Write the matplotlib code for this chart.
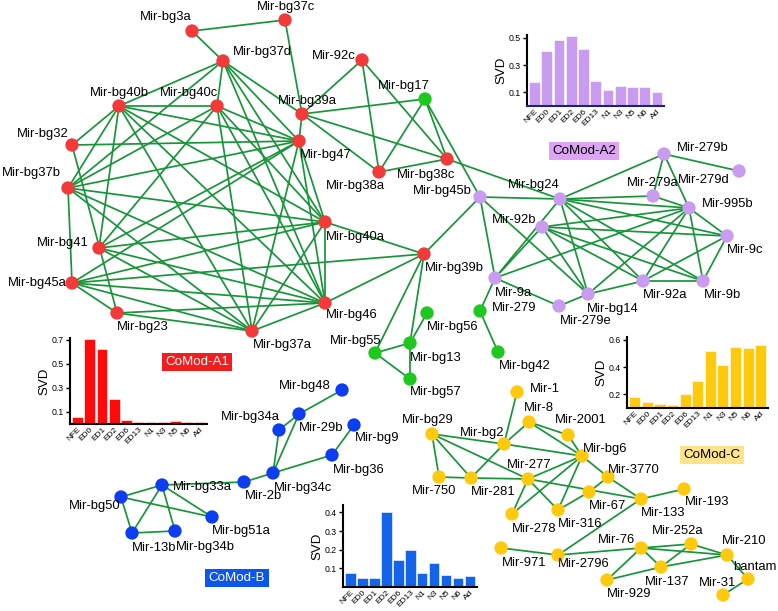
import matplotlib
matplotlib.use("Agg")
import matplotlib.pyplot as plt

plt.rcParams['font.family'] = ['Liberation Sans', 'DejaVu Sans']

W, H = 778, 611

# ---------------- network data (layout coordinates in pixel space) ----------------
a1_names = ["Mir-bg3a", "Mir-bg37c", "Mir-bg37d", "Mir-bg40b", "Mir-bg40c", "Mir-bg39a",
            "Mir-bg32", "Mir-bg47", "Mir-bg37b", "Mir-bg40a", "Mir-bg41", "Mir-bg45a",
            "Mir-bg46", "Mir-bg23", "Mir-bg37a", "Mir-92c", "Mir-bg38a", "Mir-bg38c", "Mir-bg39b"]
a1_x = [192, 285, 223, 119, 217, 302, 72, 299, 68, 325, 99, 72, 325, 117, 252, 362, 379, 447, 424]
a1_y = [31, 20, 61, 106, 106, 114, 145, 141, 188, 222, 248, 283, 303, 313, 331, 60, 172, 159, 254]

grn_names = ["Mir-bg17", "Mir-bg55", "Mir-bg56", "Mir-bg13", "Mir-bg57", "Mir-bg42", "Mir-279"]
grn_x = [425, 375, 427, 410, 410, 498, 480]
grn_y = [99, 353, 313, 343, 379, 352, 311]

a2_names = ["Mir-bg45b", "Mir-bg24", "Mir-92b", "Mir-279a", "Mir-279b", "Mir-279d", "Mir-995b",
            "Mir-9c", "Mir-9a", "Mir-92a", "Mir-9b", "Mir-bg14", "Mir-279e"]
a2_x = [480, 560, 542, 653, 664, 739, 689, 727, 495, 643, 703, 588, 559]
a2_y = [197, 199, 227, 196, 154, 171, 208, 236, 278, 281, 281, 294, 306]

b_names = ["Mir-bg48", "Mir-bg34a", "Mir-29b", "Mir-bg9", "Mir-bg36", "Mir-bg34c", "Mir-2b",
           "Mir-bg33a", "Mir-bg50", "Mir-bg51a", "Mir-13b", "Mir-bg34b"]
b_x = [342, 279, 299, 354, 332, 273, 244, 162, 121, 212, 132, 175]
b_y = [390, 430, 414, 425, 455, 473, 482, 485, 497, 517, 533, 531]

c_names = ["Mir-1", "Mir-8", "Mir-2001", "Mir-bg29", "Mir-bg2", "Mir-bg6", "Mir-750", "Mir-281",
           "Mir-277", "Mir-3770", "Mir-67", "Mir-133", "Mir-193", "Mir-278", "Mir-316", "Mir-971",
           "Mir-2796", "Mir-76", "Mir-252a", "Mir-210", "Mir-137", "Mir-929", "bantam", "Mir-31"]
c_x = [517, 529, 568, 432, 504, 582, 439, 471, 528, 608, 589, 641, 684, 512, 558, 501,
       558, 641, 691, 727, 661, 607, 748, 723]
c_y = [392, 422, 435, 434, 444, 456, 477, 478, 479, 477, 492, 499, 489, 514, 510, 548,
       555, 548, 544, 555, 567, 580, 579, 595]

edges = [
    # CoMod-A1
    ("Mir-bg3a", "Mir-bg37c"), ("Mir-bg3a", "Mir-bg37d"), ("Mir-bg37c", "Mir-bg39a"),
    ("Mir-bg37d", "Mir-bg40b"), ("Mir-bg37d", "Mir-bg40c"), ("Mir-bg37d", "Mir-bg39a"),
    ("Mir-bg37d", "Mir-bg47"), ("Mir-bg37d", "Mir-bg40a"), ("Mir-bg37d", "Mir-bg46"),
    ("Mir-bg37d", "Mir-bg37b"),
    ("Mir-bg40b", "Mir-bg40c"), ("Mir-bg40b", "Mir-bg32"), ("Mir-bg40b", "Mir-bg37b"),
    ("Mir-bg40b", "Mir-bg41"), ("Mir-bg40b", "Mir-bg47"), ("Mir-bg40b", "Mir-bg40a"),
    ("Mir-bg40b", "Mir-bg46"), ("Mir-bg40b", "Mir-bg37a"),
    ("Mir-bg40c", "Mir-bg37b"), ("Mir-bg40c", "Mir-bg41"), ("Mir-bg40c", "Mir-bg47"),
    ("Mir-bg40c", "Mir-bg40a"), ("Mir-bg40c", "Mir-bg46"), ("Mir-bg40c", "Mir-bg37a"),
    ("Mir-bg32", "Mir-bg47"), ("Mir-bg32", "Mir-bg23"),
    ("Mir-bg37b", "Mir-bg47"), ("Mir-bg37b", "Mir-bg40a"), ("Mir-bg37b", "Mir-bg46"),
    ("Mir-bg37b", "Mir-bg45a"), ("Mir-bg37b", "Mir-bg37a"),
    ("Mir-bg41", "Mir-bg40a"), ("Mir-bg41", "Mir-bg47"), ("Mir-bg41", "Mir-bg46"),
    ("Mir-bg41", "Mir-bg37a"),
    ("Mir-bg45a", "Mir-bg40a"), ("Mir-bg45a", "Mir-bg46"), ("Mir-bg45a", "Mir-bg37a"),
    ("Mir-bg45a", "Mir-bg23"), ("Mir-bg45a", "Mir-bg39b"), ("Mir-bg45a", "Mir-bg47"),
    ("Mir-bg23", "Mir-bg46"), ("Mir-bg23", "Mir-bg37a"),
    ("Mir-bg37a", "Mir-bg47"), ("Mir-bg37a", "Mir-bg40a"), ("Mir-bg37a", "Mir-bg46"),
    ("Mir-bg47", "Mir-bg39a"), ("Mir-bg47", "Mir-bg40a"), ("Mir-bg47", "Mir-bg46"),
    ("Mir-bg40a", "Mir-bg46"), ("Mir-bg40a", "Mir-bg39b"), ("Mir-bg46", "Mir-bg39b"),
    ("Mir-bg39a", "Mir-92c"), ("Mir-bg39a", "Mir-bg17"), ("Mir-bg39a", "Mir-bg38a"),
    ("Mir-bg39a", "Mir-bg38c"), ("Mir-92c", "Mir-bg38a"), ("Mir-92c", "Mir-bg38c"),
    ("Mir-bg17", "Mir-bg38a"), ("Mir-bg17", "Mir-bg38c"), ("Mir-bg17", "Mir-bg45b"),
    ("Mir-bg38a", "Mir-bg38c"), ("Mir-bg38c", "Mir-bg24"),
    ("Mir-bg39b", "Mir-bg45b"), ("Mir-bg39b", "Mir-bg55"), ("Mir-bg39b", "Mir-bg13"),
    # green
    ("Mir-bg55", "Mir-bg13"), ("Mir-bg55", "Mir-bg57"), ("Mir-bg13", "Mir-bg57"),
    ("Mir-bg13", "Mir-bg56"), ("Mir-279", "Mir-9a"), ("Mir-279", "Mir-bg42"),
    # CoMod-A2
    ("Mir-bg45b", "Mir-bg24"), ("Mir-bg45b", "Mir-9a"), ("Mir-bg45b", "Mir-bg14"),
    ("Mir-bg24", "Mir-279b"), ("Mir-bg24", "Mir-279a"), ("Mir-bg24", "Mir-995b"),
    ("Mir-bg24", "Mir-9c"), ("Mir-bg24", "Mir-9b"), ("Mir-bg24", "Mir-92a"),
    ("Mir-bg24", "Mir-bg14"), ("Mir-bg24", "Mir-9a"),
    ("Mir-92b", "Mir-995b"), ("Mir-92b", "Mir-9c"), ("Mir-92b", "Mir-9b"),
    ("Mir-92b", "Mir-92a"), ("Mir-92b", "Mir-bg14"), ("Mir-92b", "Mir-9a"),
    ("Mir-279a", "Mir-995b"), ("Mir-279b", "Mir-279a"), ("Mir-279b", "Mir-995b"),
    ("Mir-279b", "Mir-279d"),
    ("Mir-995b", "Mir-9c"), ("Mir-995b", "Mir-9b"), ("Mir-995b", "Mir-92a"),
    ("Mir-995b", "Mir-bg14"), ("Mir-995b", "Mir-9a"),
    ("Mir-9c", "Mir-9b"), ("Mir-9c", "Mir-92a"), ("Mir-92a", "Mir-9b"),
    ("Mir-92a", "Mir-bg14"), ("Mir-bg14", "Mir-279e"), ("Mir-279e", "Mir-9a"),
    # CoMod-B
    ("Mir-bg48", "Mir-29b"), ("Mir-29b", "Mir-bg34c"), ("Mir-bg34a", "Mir-bg34c"),
    ("Mir-bg34a", "Mir-29b"), ("Mir-bg9", "Mir-bg36"), ("Mir-bg36", "Mir-bg34c"),
    ("Mir-bg34c", "Mir-2b"), ("Mir-2b", "Mir-bg33a"), ("Mir-bg33a", "Mir-bg50"),
    ("Mir-bg33a", "Mir-13b"), ("Mir-bg33a", "Mir-bg34b"), ("Mir-bg33a", "Mir-bg51a"),
    ("Mir-bg50", "Mir-bg51a"), ("Mir-bg50", "Mir-13b"), ("Mir-13b", "Mir-bg34b"),
    # CoMod-C
    ("Mir-1", "Mir-bg2"), ("Mir-bg2", "Mir-8"), ("Mir-bg2", "Mir-bg29"), ("Mir-bg2", "Mir-281"),
    ("Mir-bg2", "Mir-bg6"), ("Mir-8", "Mir-2001"), ("Mir-8", "Mir-bg6"), ("Mir-2001", "Mir-bg6"),
    ("Mir-bg29", "Mir-277"), ("Mir-bg29", "Mir-281"), ("Mir-bg29", "Mir-750"),
    ("Mir-750", "Mir-281"), ("Mir-281", "Mir-277"), ("Mir-277", "Mir-bg6"),
    ("Mir-277", "Mir-278"), ("Mir-277", "Mir-316"), ("Mir-277", "Mir-133"),
    ("Mir-bg6", "Mir-278"), ("Mir-bg6", "Mir-316"), ("Mir-bg6", "Mir-3770"),
    ("Mir-67", "Mir-3770"), ("Mir-67", "Mir-316"), ("Mir-3770", "Mir-133"),
    ("Mir-133", "Mir-193"), ("Mir-133", "Mir-2796"), ("Mir-971", "Mir-2796"),
    ("Mir-2796", "Mir-76"), ("Mir-76", "Mir-210"), ("Mir-76", "Mir-252a"), ("Mir-76", "Mir-137"),
    ("Mir-76", "Mir-929"), ("Mir-252a", "Mir-137"), ("Mir-252a", "Mir-210"),
    ("Mir-929", "Mir-137"), ("Mir-137", "Mir-210"), ("Mir-210", "bantam"), ("bantam", "Mir-31"),
]

# label anchor positions (left edge, vertical centre) in pixels
label_pos = {
    "Mir-bg3a": (140, 17), "Mir-bg37c": (257, 7), "Mir-bg37d": (233, 52),
    "Mir-bg40b": (90, 93), "Mir-bg40c": (160, 93), "Mir-bg39a": (278, 101),
    "Mir-bg32": (17, 134), "Mir-bg47": (300, 155), "Mir-bg37b": (2, 173),
    "Mir-bg38a": (326, 186), "Mir-bg40a": (326, 237), "Mir-bg41": (37, 243),
    "Mir-bg45a": (8, 283), "Mir-bg46": (326, 315), "Mir-bg23": (117, 327),
    "Mir-bg37a": (253, 345), "Mir-92c": (312, 56), "Mir-bg38c": (397, 175),
    "Mir-bg39b": (425, 268),
    "Mir-bg17": (378, 86), "Mir-bg55": (330, 341), "Mir-bg56": (427, 327),
    "Mir-bg13": (410, 358), "Mir-bg57": (410, 392), "Mir-bg42": (499, 366), "Mir-279": (492, 308),
    "Mir-bg45b": (413, 191), "Mir-bg24": (508, 185), "Mir-92b": (492, 220),
    "Mir-279a": (627, 183), "Mir-279b": (677, 148), "Mir-279d": (678, 180),
    "Mir-995b": (702, 204), "Mir-9c": (727, 250), "Mir-9a": (495, 293),
    "Mir-92a": (643, 295), "Mir-9b": (704, 295), "Mir-bg14": (587, 309), "Mir-279e": (560, 321),
    "Mir-bg48": (279, 386), "Mir-bg34a": (221, 417), "Mir-29b": (299, 428),
    "Mir-bg9": (355, 438), "Mir-bg36": (333, 470), "Mir-bg33a": (173, 487),
    "Mir-bg34c": (274, 488), "Mir-2b": (245, 496), "Mir-bg50": (69, 506),
    "Mir-bg51a": (212, 531), "Mir-13b": (132, 548), "Mir-bg34b": (176, 547),
    "Mir-1": (530, 389), "Mir-8": (524, 408), "Mir-2001": (555, 420), "Mir-bg29": (402, 420),
    "Mir-bg2": (460, 433), "Mir-bg6": (583, 449), "Mir-277": (507, 465), "Mir-3770": (608, 470),
    "Mir-750": (412, 491), "Mir-281": (471, 492), "Mir-67": (589, 506), "Mir-133": (641, 513),
    "Mir-193": (685, 502), "Mir-278": (512, 529), "Mir-316": (558, 524), "Mir-252a": (652, 531),
    "Mir-76": (598, 540), "Mir-210": (722, 541), "Mir-971": (502, 563), "Mir-2796": (558, 564),
    "bantam": (733, 567), "Mir-137": (645, 582), "Mir-31": (699, 583), "Mir-929": (607, 594),
}

# ---------------- inset bar chart data ----------------
stages = ["NFE", "ED0", "ED1", "ED2", "ED6", "ED13", "N1", "N3", "N5", "N6", "Ad"]
svd_a1 = [0.058, 0.71, 0.62, 0.21, 0.037, 0.015, 0.015, 0.02, 0.025, 0.02, 0.015]
svd_a2 = [0.177, 0.40, 0.483, 0.512, 0.415, 0.18, 0.117, 0.15, 0.136, 0.136, 0.10]
svd_b = [0.075, 0.05, 0.05, 0.40, 0.143, 0.20, 0.073, 0.13, 0.063, 0.05, 0.058]
svd_c = [0.178, 0.142, 0.13, 0.122, 0.20, 0.30, 0.515, 0.418, 0.55, 0.54, 0.565]

# ---------------- colours ----------------
COL_RED = "#f23a3a"
COL_GRN = "#1fc81f"
COL_PUR = "#c99cf0"
COL_BLU = "#0d3df0"
COL_YEL = "#ffc90e"
EDGE_COL = "#18953a"

fig = plt.figure(figsize=(W / 100, H / 100), dpi=100)
ax = fig.add_axes([0, 0, 1, 1])
ax.set_xlim(0, W)
ax.set_ylim(H, 0)
ax.axis("off")

groups = [
    (a1_names, a1_x, a1_y, COL_RED),
    (grn_names, grn_x, grn_y, COL_GRN),
    (a2_names, a2_x, a2_y, COL_PUR),
    (b_names, b_x, b_y, COL_BLU),
    (c_names, c_x, c_y, COL_YEL),
]
pos = {}
for names, xs, ys, _ in groups:
    for n, x, y in zip(names, xs, ys):
        pos[n] = (x, y)

for a, b in edges:
    (x0, y0), (x1, y1) = pos[a], pos[b]
    ax.plot([x0, x1], [y0, y1], color=EDGE_COL, lw=1.25, zorder=1, solid_capstyle="round")

for names, xs, ys, col in groups:
    ax.scatter(xs, ys, s=92, color=col, edgecolors="none", zorder=3)

for n, (lx, ly) in label_pos.items():
    ax.text(lx, ly, n, fontsize=9.4, ha="left", va="center", color="black", zorder=4)

# module tags
def tag(x, y, text, face, tc):
    ax.text(x, y, text, fontsize=9.6, ha="center", va="center", color=tc, zorder=5,
            bbox=dict(boxstyle="square,pad=0.25", fc=face, ec="none"))

tag(584, 151, "CoMod-A2", "#dca4f2", "black")
tag(197, 362, "CoMod-A1", "#f21d1d", "white")
tag(237, 578, "CoMod-B", "#0d55ef", "white")
tag(712, 455, "CoMod-C", "#fde38a", "black")


def inset(x0, y0, x1, y1, vals, color, ylim, yticks, ytl, axis_col="black"):
    iax = fig.add_axes([x0 / W, 1 - y1 / H, (x1 - x0) / W, (y1 - y0) / H])
    iax.bar(range(len(stages)), vals, width=0.88, color=color, edgecolor="white", lw=0.4,
            zorder=2)
    iax.set_xlim(-0.62, len(stages) - 0.42)
    iax.set_ylim(*ylim)
    iax.set_yticks(yticks)
    iax.set_yticklabels(ytl, fontsize=6.3)
    iax.set_xticks(range(len(stages)))
    iax.set_xticklabels(stages, fontsize=6.0, rotation=45, ha="right", rotation_mode="anchor")
    iax.tick_params(axis="x", length=0, pad=1.5)
    iax.tick_params(axis="y", length=3, width=1, pad=1.5)
    for s in ("top", "right"):
        iax.spines[s].set_visible(False)
    iax.spines["left"].set_linewidth(1.5)
    iax.spines["bottom"].set_linewidth(1.5)
    iax.spines["bottom"].set_color(axis_col)
    iax.set_ylabel("SVD", fontsize=9.5, labelpad=1)
    iax.patch.set_alpha(0)
    return iax


inset(527, 35, 664, 106, svd_a2, COL_PUR, (0, 0.52), [0.1, 0.3, 0.5], ["0.1", "0.3", "0.5"], "#1a237e")
inset(70, 338, 207, 424, svd_a1, "#ff0a0a", (0, 0.715), [0.1, 0.3, 0.5, 0.7], ["0.1", "0.3", "0.5", "0.7"])
inset(343, 505, 477, 587, svd_b, "#1464ea", (0, 0.44), [0.1, 0.2, 0.3, 0.4], ["0.1", "0.2", "0.3", "0.4"])
inset(627, 337, 768, 408, svd_c, COL_YEL, (0.1, 0.62), [0.2, 0.4, 0.6], ["0.2", "0.4", "0.6"])

fig.savefig("out.png", dpi=100)
